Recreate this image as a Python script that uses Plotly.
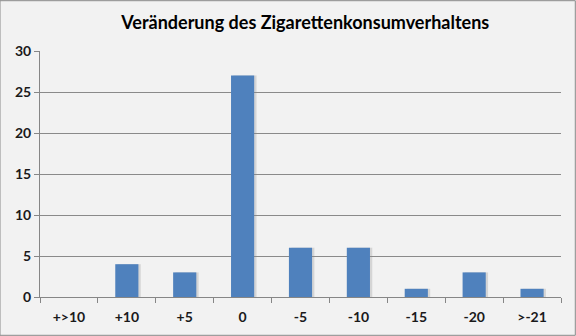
import plotly.graph_objects as go

categories = ["+>10", "+10", "+5", "0", "-5", "-10", "-15", "-20", ">-21"]
values = [0, 4, 3, 27, 6, 6, 1, 3, 1]
title_text = "Veränderung des Zigarettenkonsumverhaltens"

fig = go.Figure()
# soft shadow behind bars
fig.add_trace(go.Bar(
    x=categories, y=values, width=0.4, offset=-0.2 + 0.04,
    marker=dict(color="rgba(140,140,140,0.28)", line=dict(width=0)),
    hoverinfo="skip", showlegend=False,
))
fig.add_trace(go.Bar(
    x=categories, y=values, width=0.4, offset=-0.2,
    marker=dict(color="#4f81bd", line=dict(width=0)),
    showlegend=False,
))

fig.update_layout(
    width=576, height=336,
    margin=dict(l=40, r=15, t=51, b=39),
    paper_bgcolor="#f2f2f2", plot_bgcolor="#f2f2f2",
    barmode="overlay",
    font=dict(family="Lato", size=14, color="#1a1a1a"),
    title=dict(text="<b>" + title_text + "</b>", x=0.53, xanchor="center",
               y=0.932, yanchor="middle",
               font=dict(family="Lato", size=18, color="#000000")),
    xaxis=dict(
        type="category", showgrid=False, showline=True, linecolor="#868686",
        linewidth=1, ticks="outside", tickcolor="#868686", ticklen=5,
        tickson="boundaries", tickfont=dict(family="Lato", size=14, color="#1a1a1a", weight="bold"),
        ticklabelstandoff=7,
    ),
    yaxis=dict(
        range=[0, 30], dtick=5, showgrid=True, gridcolor="#8a8a8a", gridwidth=1,
        showline=True, linecolor="#868686", linewidth=1, ticks="outside",
        tickcolor="#868686", ticklen=5, zeroline=False,
        tickfont=dict(family="Lato", size=14, color="#1a1a1a", weight="bold"),
    ),
)
# border around whole chart
fig.add_shape(type="rect", xref="x domain", yref="y domain",
              x0=-40/521, x1=(521+14.3)/521, y0=-38.3/246, y1=(246+50.3)/246,
              line=dict(color="#898989", width=1), layer="above")

fig.write_html("out.html")
